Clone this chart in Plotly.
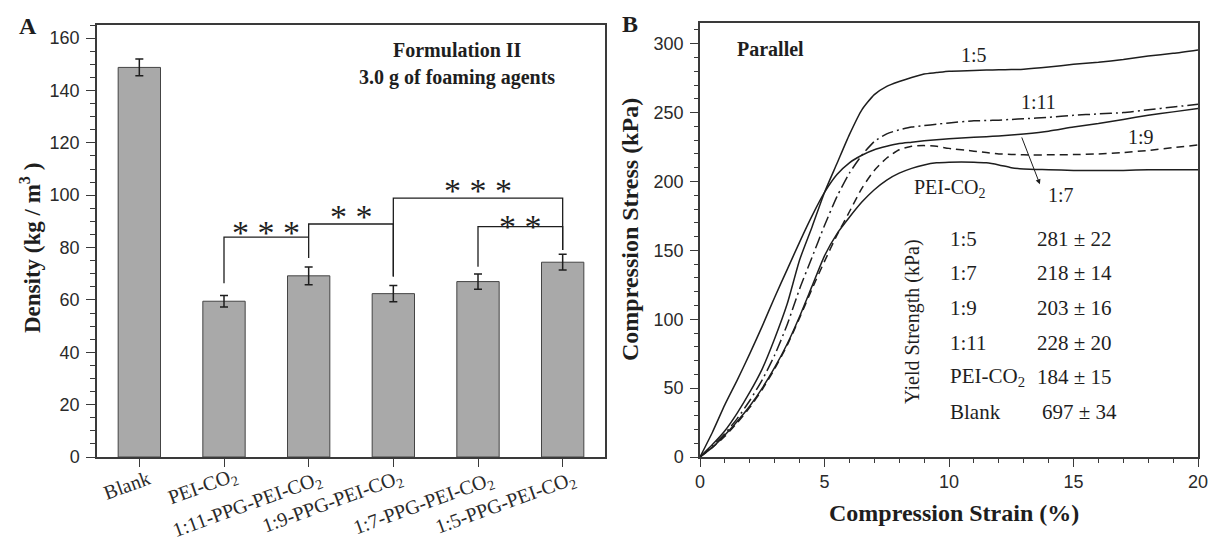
import plotly.graph_objects as go

# ---------------- Panel A data ----------------
categories = ["Blank", "PEI-CO<sub>2</sub>", "1:11-PPG-PEI-CO<sub>2</sub>",
              "1:9-PPG-PEI-CO<sub>2</sub>", "1:7-PPG-PEI-CO<sub>2</sub>",
              "1:5-PPG-PEI-CO<sub>2</sub>"]
density = [148.8, 59.5, 69.2, 62.4, 67.0, 74.4]
density_err = [3.2, 2.2, 3.4, 3.1, 2.9, 3.0]

# significance brackets: (left cat, right cat, top, left-leg bottom, right-leg bottom)
bracket_left = [1, 2, 3, 4]
bracket_right = [2, 3, 5, 5]
bracket_top = [84.0, 89.0, 98.9, 88.0]
bracket_left_bottom = [66.4, 76.0, 68.9, 72.7]
bracket_right_bottom = [84.0, 68.9, 79.1, 79.1]
bracket_stars = ["* * *", "* *", "* * *", "* *"]
bracket_star_y = [88.0, 94.1, 103.9, 90.5]

# ---------------- Panel B data ----------------
strain = [0, 0.5, 1, 1.5, 2, 2.5, 3, 3.5, 4, 4.5, 5, 5.5, 6, 6.5, 7, 7.5, 8, 8.5,
          9, 9.5, 10, 11, 11.5, 12, 12.5, 13, 14, 15, 16, 17, 18, 19, 20]
stress_1_5 = [0, 9, 19, 32, 47, 64, 86, 111, 143, 167, 192, 213, 234, 252, 263, 269,
              272.5, 275.5, 278, 279, 280, 280.5, 280.8, 281, 281.2, 281.5, 283, 285,
              286.5, 288.5, 291, 293, 295.5]
stress_1_7 = [0, 18, 38, 56, 75, 95, 116, 136, 156, 175, 192, 205, 213.5, 219, 223,
              225.5, 227.5, 228.5, 229.5, 230.3, 231, 232, 232.5, 233, 233.7, 234.5,
              236.5, 239.5, 242, 245, 248, 250.5, 253]
stress_1_11 = [0, 8, 17, 28, 41, 56, 74, 96, 122, 145, 168, 189, 206, 219, 229, 234.5,
               237.5, 239.5, 240.5, 241.5, 242.5, 244, 244.2, 244.5, 245, 245.5, 246.5,
               248, 249, 250, 252, 254, 256]
stress_1_9 = [0, 7, 15, 25, 36, 49, 64, 81, 101, 122, 142, 161, 178, 195, 208, 217,
              223, 225.5, 226, 225.5, 224, 222, 221, 220, 219.6, 219.3, 219.3, 219.5,
              220, 221, 222.5, 224.5, 226.5]
stress_pei = [0, 7, 16, 26, 37, 50, 65, 82, 102, 124, 146, 162, 174, 185, 194, 201,
              206, 209.5, 212, 213.5, 214, 214, 213.5, 212, 210, 209, 208.5, 208, 208,
              208, 208.5, 208.5, 208.5]

curve_labels = ["1:5", "1:11", "1:9", "PEI-CO<sub>2</sub>", "1:7"]
curve_label_x = [11.0, 13.6, 17.7, 10.0, 14.5]
curve_label_y = [292, 258, 232, 195, 190]
arrow_tail = (12.9, 233)
arrow_head = (13.65, 198)

table_names = ["1:5", "1:7", "1:9", "1:11", "PEI-CO<sub>2</sub>", "Blank"]
table_values = ["281 ± 22", "218 ± 14", "203 ± 16", "228 ± 20", "184 ± 15", "697 ± 34"]
table_row_y = [158.3, 133.4, 108.2, 83.0, 58.3, 32.9]
table_value_x = [13.45, 13.45, 13.45, 13.45, 13.45, 13.65]
table_name_x = 9.95

W, H = 1213, 540
SERIF = "Liberation Serif"
SANS = "Liberation Sans"
INK = "#1e1e1e"
AX = "#3a3a3a"

# pixel offsets of the rotated category labels (centre relative to tick / axis)
label_dx = [-12, -22, -62, -61, -55, -57]
label_dy = [-28, -30, -48, -45, -47, -46]
LABEL_ANGLE = -20

fig = go.Figure()

fig.add_trace(go.Bar(
    x=list(range(len(categories))), y=density,
    error_y=dict(type="data", array=density_err, visible=True,
                 color=INK, thickness=1.5, width=4),
    width=0.5, marker=dict(color="#a9a9a9", line=dict(color="#444444", width=1)),
    xaxis="x", yaxis="y", hoverinfo="skip"))

line_specs = [
    (stress_1_5, "solid"),
    (stress_1_7, "solid"),
    (stress_1_11, "12px,4px,2px,4px"),
    (stress_1_9, "8px,5px"),
    (stress_pei, "solid"),
]
for ys, dash in line_specs:
    fig.add_trace(go.Scatter(
        x=strain, y=ys, mode="lines", line=dict(color=INK, width=1.5, dash=dash,
                                                 shape="spline", smoothing=0.6),
        xaxis="x2", yaxis="y2", hoverinfo="skip"))

shapes = []
for xl, xr, top, bl, br in zip(bracket_left, bracket_right, bracket_top,
                               bracket_left_bottom, bracket_right_bottom):
    shapes.append(dict(type="path", xref="x", yref="y",
                       path=f"M {xl},{bl} L {xl},{top} L {xr},{top} L {xr},{br}",
                       line=dict(color=INK, width=1.3)))

ann = []
for xl, xr, s, sy in zip(bracket_left, bracket_right, bracket_stars, bracket_star_y):
    ann.append(dict(x=(xl + xr) / 2, y=sy, xref="x", yref="y", text=s,
                    showarrow=False, yshift=-6, xanchor="center", yanchor="middle",
                    font=dict(family=SERIF, size=34, color=INK)))

for i, (lab, dx, dy) in enumerate(zip(categories, label_dx, label_dy)):
    ann.append(dict(x=i, y=0, xref="x", yref="y", text=lab, textangle=LABEL_ANGLE,
                    xshift=dx, yshift=dy, showarrow=False,
                    xanchor="center", yanchor="middle",
                    font=dict(family=SERIF, size=20, color="#2a2a2a")))


def paper_text(px, py, text, size, angle=0, bold=True, xanchor="center"):
    return dict(x=px / W, y=1 - py / H, xref="paper", yref="paper",
                text=f"<b>{text}</b>" if bold else text, textangle=angle,
                showarrow=False, xanchor=xanchor, yanchor="middle",
                font=dict(family=SERIF, size=size, color=INK))


ann += [
    paper_text(458, 50, "Formulation II", 20),
    paper_text(457, 77, "3.0 g of foaming agents", 20),
    paper_text(28, 26, "A", 24),
    paper_text(630, 24, "B", 24),
    paper_text(30, 248, "Density (kg / m<sup>3</sup> )", 23, angle=-90),
    paper_text(630, 230, "Compression Stress (kPa)", 24, angle=-90),
    paper_text(954, 513, "Compression Strain (%)", 24),
    dict(x=1.4, y=296, xref="x2", yref="y2", text="<b>Parallel</b>", xanchor="left",
         yanchor="middle", showarrow=False,
         font=dict(family=SERIF, size=20, color=INK)),
    dict(x=8.55, y=98, xref="x2", yref="y2", text="Yield Strength (kPa)",
         textangle=-90, showarrow=False, xanchor="center", yanchor="middle",
         font=dict(family=SERIF, size=20, color=INK)),
    dict(x=arrow_head[0], y=arrow_head[1], ax=arrow_tail[0], ay=arrow_tail[1],
         xref="x2", yref="y2", axref="x2", ayref="y2", text="", showarrow=True,
         arrowhead=2, arrowsize=1, arrowwidth=1, arrowcolor=INK),
]
for t, cx, cy in zip(curve_labels, curve_label_x, curve_label_y):
    ann.append(dict(x=cx, y=cy, xref="x2", yref="y2", text=t, showarrow=False,
                    xanchor="center", yanchor="middle",
                    font=dict(family=SERIF, size=20, color=INK)))
for name, val, vx, ry in zip(table_names, table_values, table_value_x, table_row_y):
    ann.append(dict(x=table_name_x, y=ry, xref="x2", yref="y2", text=name,
                    xanchor="left", yanchor="middle", showarrow=False,
                    font=dict(family=SERIF, size=21, color=INK)))
    ann.append(dict(x=vx, y=ry, xref="x2", yref="y2", text=val,
                    xanchor="left", yanchor="middle", showarrow=False,
                    font=dict(family=SERIF, size=21, color=INK)))

axis_common = dict(showline=True, mirror=True, linecolor=AX, linewidth=1.5,
                   showgrid=False, zeroline=False, ticks="outside", tickcolor=AX,
                   tickwidth=1.3, automargin=False,
                   tickfont=dict(family=SANS, size=18, color="#2a2a2a"))

fig.update_layout(
    width=W, height=H, margin=dict(l=0, r=0, t=0, b=0), autosize=False,
    paper_bgcolor="white", plot_bgcolor="white", showlegend=False,
    xaxis=dict(domain=[97 / W, 605 / W], anchor="y", range=[-0.5, 5.5],
               tickmode="array", tickvals=list(range(len(categories))),
               showticklabels=False, ticklen=8, **axis_common),
    yaxis=dict(domain=[83 / H, 515 / H], anchor="x", range=[0, 165], dtick=20,
               tick0=0, ticklen=9, ticklabelstandoff=3,
               minor=dict(dtick=5, ticklen=5, ticks="outside", tickcolor=AX,
                          tickwidth=1.1),
               **axis_common),
    xaxis2=dict(domain=[700 / W, 1198 / W], anchor="y2", range=[0, 20], dtick=5,
                tick0=0, ticklen=8,
                minor=dict(dtick=1, ticklen=4, ticks="outside", tickcolor=AX,
                           tickwidth=1.1),
                **axis_common),
    yaxis2=dict(domain=[83 / H, 517 / H], anchor="x2", range=[0, 315], dtick=50,
                tick0=0, ticklen=8, ticklabelstandoff=3,
                minor=dict(dtick=10, ticklen=4, ticks="outside", tickcolor=AX,
                           tickwidth=1.1),
                **axis_common),
    shapes=shapes, annotations=ann,
)

fig.write_html("out.html")
